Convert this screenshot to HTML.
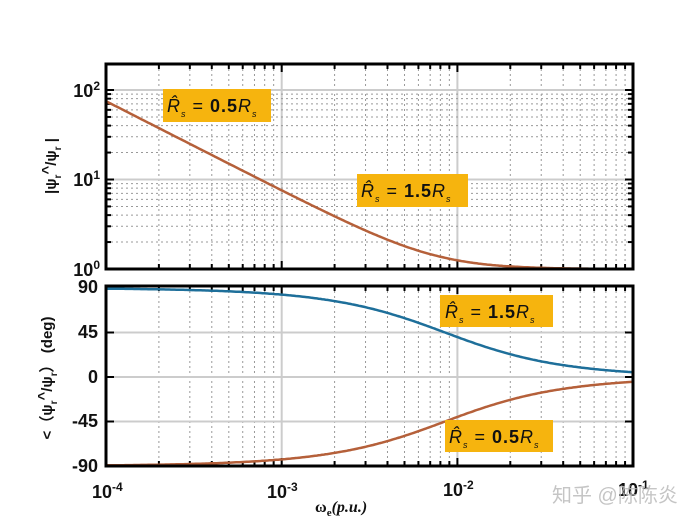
<!DOCTYPE html>
<html><head><meta charset="utf-8"><style>
body{margin:0;background:#fff;}
svg{display:block;font-family:"Liberation Sans",Arial,sans-serif;}
</style></head><body>
<svg id="s" width="700" height="525" viewBox="0 0 700 525" xmlns="http://www.w3.org/2000/svg">
<g id="grid"></g>
<g id="curves"></g>
<rect x="106" y="64" width="527" height="205" fill="none" stroke="#000" stroke-width="3"/>
<rect x="106" y="286" width="527" height="180" fill="none" stroke="#000" stroke-width="3"/>
<g font-weight="bold" font-size="18" fill="#111">
<text x="100" y="97" text-anchor="end">10<tspan dy="-7" font-size="12">2</tspan></text>
<text x="100" y="186" text-anchor="end">10<tspan dy="-7" font-size="12">1</tspan></text>
<text x="100" y="276" text-anchor="end">10<tspan dy="-7" font-size="12">0</tspan></text>
<text x="98" y="293" text-anchor="end">90</text>
<text x="98" y="338" text-anchor="end">45</text>
<text x="98" y="383" text-anchor="end">0</text>
<text x="98" y="427" text-anchor="end">-45</text>
<text x="98" y="472" text-anchor="end">-90</text>
<text x="92" y="498">10<tspan dy="-7" font-size="12">-4</tspan></text>
<text x="267" y="498">10<tspan dy="-7" font-size="12">-3</tspan></text>
<text x="443" y="496">10<tspan dy="-7" font-size="12">-2</tspan></text>
<text x="618" y="496">10<tspan dy="-7" font-size="12">-1</tspan></text>
<text transform="translate(56,166) rotate(-90)" text-anchor="middle" font-size="15">|ψ<tspan dy="5" font-size="10">r</tspan><tspan dy="-9">^</tspan><tspan dy="4">/ψ</tspan><tspan dy="5" font-size="10">r</tspan><tspan dy="-5"> |</tspan></text>
<text transform="translate(52,378) rotate(-90)" text-anchor="middle" font-size="15">&lt;（ψ<tspan dy="5" font-size="10">r</tspan><tspan dy="-9">^</tspan><tspan dy="4">/ψ</tspan><tspan dy="5" font-size="10">r</tspan><tspan dy="-5">）  (deg)</tspan></text>
</g>
<text x="315" y="512" font-family="Liberation Serif,serif" font-weight="bold" font-size="16" fill="#111">ω<tspan dy="4" font-size="11">e</tspan><tspan dy="-4" font-style="italic">(p.u.)</tspan></text>
<g>
<rect x="163" y="89" width="108" height="33" fill="#F6B40E"/>
<rect x="357" y="174" width="111" height="33" fill="#F6B40E"/>
<rect x="440" y="295" width="113" height="32" fill="#F6B40E"/>
<rect x="445" y="420" width="108" height="32" fill="#F6B40E"/>
</g>
<g font-size="18" fill="#111" font-weight="bold" letter-spacing="1">
<text x="167" y="112"><tspan font-style="italic" font-weight="normal">R̂</tspan><tspan font-size="9" font-style="italic" font-weight="normal" dy="5">s</tspan><tspan dy="-5" font-weight="normal"> = </tspan>0.5<tspan font-style="italic" font-weight="normal">R</tspan><tspan font-size="9" font-style="italic" font-weight="normal" dy="5">s</tspan></text>
<text x="361" y="197"><tspan font-style="italic" font-weight="normal">R̂</tspan><tspan font-size="9" font-style="italic" font-weight="normal" dy="5">s</tspan><tspan dy="-5" font-weight="normal"> = </tspan>1.5<tspan font-style="italic" font-weight="normal">R</tspan><tspan font-size="9" font-style="italic" font-weight="normal" dy="5">s</tspan></text>
<text x="445" y="318"><tspan font-style="italic" font-weight="normal">R̂</tspan><tspan font-size="9" font-style="italic" font-weight="normal" dy="5">s</tspan><tspan dy="-5" font-weight="normal"> = </tspan>1.5<tspan font-style="italic" font-weight="normal">R</tspan><tspan font-size="9" font-style="italic" font-weight="normal" dy="5">s</tspan></text>
<text x="449" y="443"><tspan font-style="italic" font-weight="normal">R̂</tspan><tspan font-size="9" font-style="italic" font-weight="normal" dy="5">s</tspan><tspan dy="-5" font-weight="normal"> = </tspan>0.5<tspan font-style="italic" font-weight="normal">R</tspan><tspan font-size="9" font-style="italic" font-weight="normal" dy="5">s</tspan></text>
</g>
<text x="552" y="502" font-family="Liberation Sans,'Noto Sans CJK SC',sans-serif" font-size="20" fill="#bbb" opacity="0.85">知乎 @陈陈炎</text>
</svg>
<script>
var NS="http://www.w3.org/2000/svg";
function el(p,t,a){var e=document.createElementNS(NS,t);for(var k in a)e.setAttribute(k,a[k]);p.appendChild(e);return e;}
var g=document.getElementById('grid'),c=document.getElementById('curves');
var X0=106,DX=175.7;function X(w){return X0+(Math.log10(w)+4)*DX;}
function Ym(v){return 269-Math.log10(v)*89.5;}
function Yp(d){return 377-d*89/90;}
for(var d=-4;d<-1;d++)for(var m=1;m<10;m++){var x=X(m*Math.pow(10,d));
 if(m==1){if(d>-4){el(g,'line',{x1:x,y1:64,x2:x,y2:269,stroke:'#ccc','stroke-width':2});el(g,'line',{x1:x,y1:286,x2:x,y2:466,stroke:'#ccc','stroke-width':2});}}
 else{el(g,'line',{x1:x,y1:64,x2:x,y2:269,stroke:'#999','stroke-width':1,'stroke-dasharray':'2 3'});el(g,'line',{x1:x,y1:286,x2:x,y2:466,stroke:'#999','stroke-width':1,'stroke-dasharray':'2 3'});}
 el(g,'line',{x1:x,y1:64,x2:x,y2:m==1?72:69,stroke:'#000','stroke-width':2});el(g,'line',{x1:x,y1:269,x2:x,y2:m==1?261:264,stroke:'#000','stroke-width':2});
 el(g,'line',{x1:x,y1:286,x2:x,y2:m==1?294:291,stroke:'#000','stroke-width':2});el(g,'line',{x1:x,y1:466,x2:x,y2:m==1?458:461,stroke:'#000','stroke-width':2});}
for(var e=0;e<3;e++)for(var m=1;m<10;m++){var y=Ym(m*Math.pow(10,e));if(y<64)break;
 if(m==1){if(e>0)el(g,'line',{x1:106,y1:y,x2:633,y2:y,stroke:'#ccc','stroke-width':2});}
 else el(g,'line',{x1:106,y1:y,x2:633,y2:y,stroke:'#999','stroke-width':1,'stroke-dasharray':'2 3'});
 el(g,'line',{x1:106,y1:y,x2:m==1?114:111,y2:y,stroke:'#000','stroke-width':2});el(g,'line',{x1:633,y1:y,x2:m==1?625:628,y2:y,stroke:'#000','stroke-width':2});}
[45,0,-45].forEach(function(d){var y=Yp(d);el(g,'line',{x1:106,y1:y,x2:633,y2:y,stroke:'#ccc','stroke-width':2});
 el(g,'line',{x1:106,y1:y,x2:114,y2:y,stroke:'#000','stroke-width':2});el(g,'line',{x1:633,y1:y,x2:625,y2:y,stroke:'#000','stroke-width':2});});
var pm='',pb='',po='';
for(var i=0;i<=300;i++){var lw=-4+3*i/300,w=Math.pow(10,lw),x=X(w);
 var mag=Math.sqrt(1+Math.pow(7.5e-3/w,2));pm+=(i?'L':'M')+x.toFixed(1)+' '+Ym(mag).toFixed(1);
 var ph=Math.atan(8.5e-3/w)*180/Math.PI;pb+=(i?'L':'M')+x.toFixed(1)+' '+Yp(ph).toFixed(1);po+=(i?'L':'M')+x.toFixed(1)+' '+Yp(-ph).toFixed(1);}
el(c,'path',{d:pm,fill:'none',stroke:'#B5603A','stroke-width':2.5});
el(c,'path',{d:pb,fill:'none',stroke:'#1E6F9A','stroke-width':2.5});
el(c,'path',{d:po,fill:'none',stroke:'#B5603A','stroke-width':2.5});
</script>
</body></html>
